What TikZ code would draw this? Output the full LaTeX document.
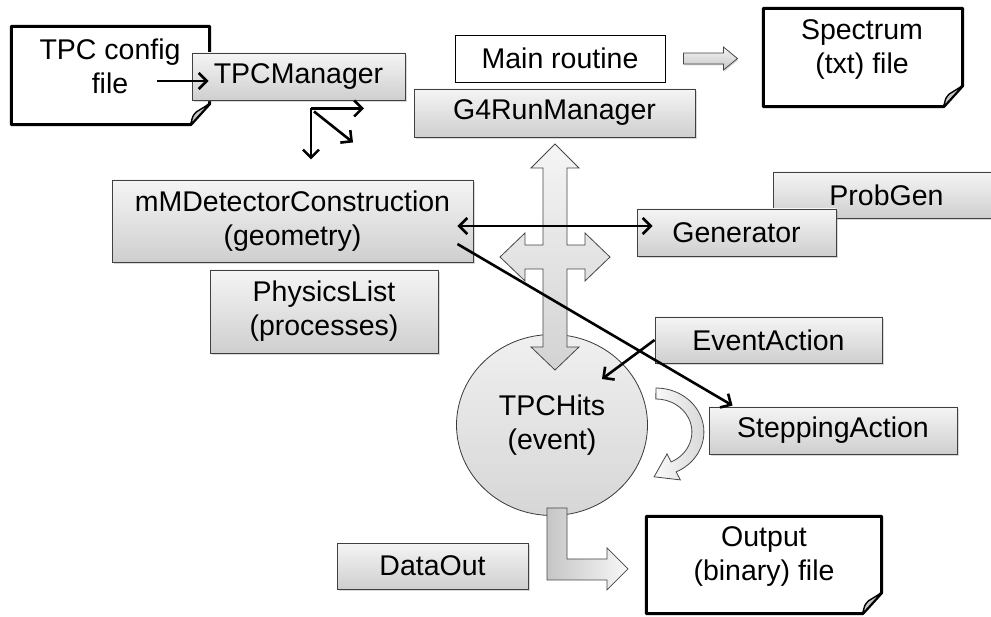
\documentclass[tikz,border=0pt]{standalone}
\usepackage{fontspec}
\setmainfont{Liberation Sans}
\usetikzlibrary{arrows.meta,shadows,calc,shapes.geometric}

\newcommand{\dfont}{\fontsize{28.5}{34}\selectfont}
% file symbol with a turned corner, drawn round an empty node
\newcommand{\filedoc}[1]{%
  \draw[line width=3pt,fill=white,line join=round] (#1.north west) -- (#1.north east) -- ($(#1.south east)+(0,-21)$) -- ($(#1.south east)+(-19,0)$) -- (#1.south west) -- cycle;
  \draw[line width=1.4pt,fill=gray!45,line join=round] ($(#1.south east)+(-19,0)$) .. controls ($(#1.south east)+(-17,-9)$) .. ($(#1.south east)+(-13,-13)$) -- ($(#1.south east)+(0,-21)$) -- cycle;}

\begin{document}
\begin{tikzpicture}[x=1pt,y=-1pt,
    box/.style={draw=black!75,line width=0.9pt,top color=gray!8,bottom color=gray!38,
      drop shadow={shadow xshift=1.5pt,shadow yshift=-2pt,opacity=0.3},
      inner sep=0pt,align=center,font=\dfont},
    plainbox/.style={draw,line width=0.9pt,fill=white,inner sep=0pt,font=\dfont},
    doctext/.style={align=center,font=\dfont,inner sep=0pt},
    blockarrow/.style={draw=gray!55!black,line width=0.8pt,line join=miter},
    arr/.style={line width=2.6pt,-{Straight Barb[length=8pt,width=16pt]}},
    arrboth/.style={line width=2.6pt,{Straight Barb[length=8pt,width=16pt]}-{Straight Barb[length=8pt,width=16pt]}}]
  \useasboundingbox (0,0) rectangle (991,617);

  % input file and its manager
  \node[minimum width=198pt,minimum height=98pt,inner sep=0pt] (cfg) at (110.5,75.5) {};
  \filedoc{cfg}
  \node[doctext] (cfgtxt) at (110,66) {TPC config\\file};
  \node[box,minimum width=213pt,minimum height=47pt] (mgr) at (298.5,76.5) {TPCManager};

  % main routine and output spectrum
  \node[plainbox,minimum width=210pt,minimum height=47pt] (main) at (560,58.5) {Main routine};
  \node[box,minimum width=281pt,minimum height=48pt] (g4) at (554.5,113) {G4RunManager};
  \node[minimum width=199pt,minimum height=98pt,inner sep=0pt] (spec) at (863,57.5) {};
  \filedoc{spec}
  \node[doctext] (spectxt) at (862,50) {Spectrum\\(txt) file};

  % user classes
  \node[box,minimum width=227pt,minimum height=46pt] (prob) at (886.5,195) {ProbGen};
  \node[box,minimum width=199pt,minimum height=47pt] (gen) at (736.5,232.5) {Generator};
  \node[box,minimum width=361pt,minimum height=82pt] (det) at (292.5,221) {mMDetectorConstruction\\(geometry)};
  \node[box,minimum width=228pt,minimum height=83pt] (phys) at (324,311.5) {PhysicsList\\(processes)};

  \node[ellipse,draw=gray!45!black,line width=0.8pt,top color=gray!12,bottom color=gray!32,
    minimum width=191pt,minimum height=181pt,inner sep=0pt,align=center,font=\dfont] (hits) at (552,425) {TPCHits\\(event)};

  % four-way arrow under the run manager
  \coordinate (hub) at (555,257);
  \path[blockarrow,top color=gray!8,bottom color=gray!35,shift={(hub)}]
    (0,-113) -- (24,-89) -- (12,-89) -- (12,-12) -- (30,-12) -- (30,-24) -- (55,0) -- (30,24) -- (30,12)
    -- (12,12) -- (12,90) -- (24,90) -- (0,113) -- (-24,90) -- (-12,90) -- (-12,12) -- (-30,12)
    -- (-30,24) -- (-55,0) -- (-30,-24) -- (-30,-12) -- (-12,-12) -- (-12,-89) -- (-24,-89) -- cycle;

  % hits to output file
  \path[blockarrow,left color=gray!45,right color=gray!6,shift={(hits.south)}]
    (-5,-8) -- (15,-8) -- (15,43) -- (55,43) -- (55,32) -- (76,53) -- (55,74) -- (55,64) -- (-5,64) -- cycle;

  % stepping loop
  \path[blockarrow,left color=gray!4,right color=gray!30,shift={(hits.east)}]
    (8,-37) arc[start angle=-90,end angle=65,x radius=48,y radius=44]
    -- (32.4,54.9) -- (6.2,51.8) -- (19.1,28.9) -- (23.2,36.9)
    arc[start angle=65,end angle=-90,x radius=36,y radius=33] -- cycle;

  % main routine to spectrum
  \path[blockarrow,top color=gray!8,bottom color=gray!45,
    drop shadow={shadow xshift=1pt,shadow yshift=-1.5pt,opacity=0.3},shift={(main.east)}]
    (18,-5.5) -- (58,-5.5) -- (58,-11.5) -- (72,0) -- (58,11.5) -- (58,5.5) -- (18,5.5) -- cycle;

  \node[box,minimum width=227pt,minimum height=46pt] (evt) at (768.5,340) {EventAction};
  \node[box,minimum width=248pt,minimum height=47pt] (step) at (833,430.5) {SteppingAction};
  \node[box,minimum width=191pt,minimum height=46pt] (data) at (432.5,566) {DataOut};
  \node[minimum width=235pt,minimum height=97pt,inner sep=0pt] (out) at (764,565) {};
  \filedoc{out}
  \node[doctext] (outtxt) at (764,557) {Output\\(binary) file};

  % connectors
  \draw[arr] ($(cfg.center)+(46.5,5.5)$) -- ($(mgr.west)+(17,4.5)$);
  \coordinate (fan) at ($(mgr.south)+(12.5,8)$);
  \draw[arr] (fan) -- ++(53,0);
  \draw[arr] (fan) -- ++(0,51);
  \draw[arr] ($(fan)+(3,3)$) -- ++(39,31);
  \draw[arrboth] ($(det.east)+(-16,5)$) -- ($(gen.west)+(16,-6.5)$);
  \draw[arr] ($(det.east)+(-16,23)$) -- ($(step.north west)+(24,-1)$);
  \draw[arr] (evt.west) -- ($(hits.center)+(50,-46)$);
\end{tikzpicture}
\end{document}
